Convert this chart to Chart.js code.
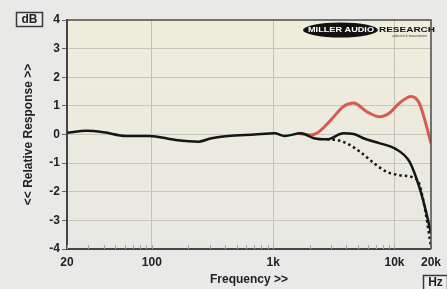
<!DOCTYPE html>
<html>
<head>
<meta charset="utf-8">
<script src="https://cdn.jsdelivr.net/npm/chart.js@4.4.1/dist/chart.umd.min.js"></script>
<style>
  body { margin: 0; background: #e9e9e8; }
  #wrap { width: 447px; height: 289px; }
</style>
</head>
<body>
<div id="wrap"><canvas id="freqChart" width="447" height="289"></canvas></div>
<script>
// Frequency response data (Hz / dB)
const solidFreq = [20, 29, 40, 61, 95, 157, 243, 311, 425, 703, 1030, 1240, 1700, 2170, 2780, 3800, 4600, 5550, 7600, 10000, 13300, 16000, 18100, 20000];
const solidDb   = [0.06, 0.13, 0.08, -0.05, -0.05, -0.19, -0.25, -0.13, -0.05, 0.0, 0.04, -0.05, 0.04, -0.13, -0.17, 0.04, 0.02, -0.13, -0.31, -0.48, -0.95, -1.83, -2.65, -3.46];

const dottedFreq = [2780, 3400, 4050, 5200, 6800, 8600, 11000, 14200, 16000, 18100, 20000];
const dottedDb   = [-0.17, -0.2, -0.31, -0.6, -1.01, -1.3, -1.42, -1.5, -1.72, -2.76, -3.93];

const redFreq = [1600, 2020, 2300, 3000, 3800, 4600, 5900, 7600, 9100, 11000, 13700, 16000, 18100, 20000];
const redDb   = [0.04, -0.02, 0.05, 0.51, 0.98, 1.1, 0.8, 0.62, 0.75, 1.1, 1.33, 1.1, 0.39, -0.31];

// Axis ticks
const xTickValues = [20, 30, 40, 50, 60, 70, 80, 90, 100, 200, 300, 400, 500, 600, 700, 800, 900,
                     1000, 2000, 3000, 4000, 5000, 6000, 7000, 8000, 9000, 10000, 20000];
const xTickLabels = { 20: '20', 100: '100', 1000: '1k', 10000: '10k', 20000: '20k' };
const xGridValues = [100, 1000, 10000];

const toPoints = (xs, ys) => xs.map((x, i) => ({ x: x, y: ys[i] }));

const tickFont = { family: "'Liberation Sans', Arial, sans-serif", size: 12, weight: 'bold' };

// Plot background, frame, minor ticks and boxes
const decorPlugin = {
    id: 'decor',
    beforeDraw(chart) {
        const { ctx, chartArea: a } = chart;
        const g = ctx.createLinearGradient(0, a.top, 0, a.bottom);
        g.addColorStop(0, '#efeddb');
        g.addColorStop(1, '#e8e8e3');
        ctx.save();
        ctx.fillStyle = g;
        ctx.fillRect(a.left, a.top, a.right - a.left, a.bottom - a.top);
        ctx.restore();
    },
    beforeDatasetsDraw(chart) {
        const { ctx, chartArea: a } = chart;
        const xs = chart.scales.x;
        ctx.save();
        ctx.strokeStyle = '#a8a8a0';
        ctx.lineWidth = 1;
        xs.ticks.forEach(t => {
            const px = Math.round(xs.getPixelForValue(t.value)) + 0.5;
            ctx.beginPath();
            ctx.moveTo(px, a.bottom - 4);
            ctx.lineTo(px, a.bottom);
            ctx.stroke();
        });
        // logo
        ctx.fillStyle = '#111';
        ctx.beginPath();
        ctx.ellipse(340.5, 30, 37.5, 7.5, 0, 0, Math.PI * 2);
        ctx.fill();
        ctx.textBaseline = 'middle';
        ctx.textAlign = 'left';
        ctx.font = "bold 8px 'Liberation Sans', Arial, sans-serif";
        let w = ctx.measureText('MILLER AUDIO').width;
        ctx.save();
        ctx.translate(308, 30);
        ctx.scale(66 / w, 1);
        ctx.fillStyle = '#fff';
        ctx.fillText('MILLER AUDIO', 0, 0);
        ctx.restore();
        w = ctx.measureText('RESEARCH').width;
        ctx.save();
        ctx.translate(379, 30);
        ctx.scale(56 / w, 1);
        ctx.fillStyle = '#111';
        ctx.fillText('RESEARCH', 0, 0);
        ctx.restore();
        ctx.font = "3px 'Liberation Sans', Arial, sans-serif";
        ctx.fillStyle = '#444';
        ctx.fillText('audio test & measurement', 392, 36);
        ctx.restore();
    },
    afterDraw(chart) {
        const { ctx, chartArea: a } = chart;
        ctx.save();
        ctx.strokeStyle = '#4a4a4a';
        ctx.lineWidth = 1.5;
        ctx.beginPath();
        ctx.moveTo(a.left, a.top);
        ctx.lineTo(a.right, a.top);
        ctx.lineTo(a.right, a.bottom);
        ctx.stroke();

        ctx.lineWidth = 1.5;
        ctx.strokeStyle = '#3a3a3a';
        ctx.fillStyle = '#ececeb';
        ctx.fillRect(16.5, 12.5, 26, 14);
        ctx.strokeRect(16.5, 12.5, 26, 14);
        ctx.fillRect(423.5, 275.5, 24, 16);
        ctx.strokeRect(423.5, 275.5, 24, 16);
        ctx.fillStyle = '#222';
        ctx.font = "bold 12px 'Liberation Sans', Arial, sans-serif";
        ctx.textAlign = 'center';
        ctx.textBaseline = 'middle';
        ctx.fillText('dB', 29.5, 20);
        ctx.fillText('Hz', 435.5, 283);
        ctx.restore();
    }
};

const ctx = document.getElementById('freqChart').getContext('2d');
new Chart(ctx, {
    type: 'line',
    data: {
        datasets: [
            {
                label: 'Response',
                data: toPoints(solidFreq, solidDb),
                borderColor: '#151515',
                borderWidth: 2.5
            },
            {
                label: 'Response (alt)',
                data: toPoints(dottedFreq, dottedDb),
                borderColor: '#151515',
                borderWidth: 2.5,
                borderDash: [2.5, 3]
            },
            {
                label: 'Response (boosted)',
                data: toPoints(redFreq, redDb),
                borderColor: 'rgba(214, 78, 68, 0.92)',
                borderWidth: 3
            }
        ]
    },
    options: {
        responsive: false,
        animation: false,
        layout: { padding: { left: 0, top: 20, right: 11, bottom: 0 } },
        elements: {
            point: { radius: 0 },
            line: { cubicInterpolationMode: 'monotone', fill: false }
        },
        plugins: {
            legend: { display: false },
            tooltip: { enabled: false }
        },
        scales: {
            x: {
                type: 'logarithmic',
                min: 20,
                max: 20000,
                afterBuildTicks: (scale) => {
                    scale.ticks = xTickValues.map(v => ({ value: v }));
                },
                afterFit: (scale) => { scale.height = 40; },
                ticks: {
                    autoSkip: false,
                    maxRotation: 0,
                    padding: 6,
                    color: '#222',
                    font: tickFont,
                    callback: (value) => xTickLabels[value] || ''
                },
                grid: {
                    drawTicks: false,
                    color: (c) => xGridValues.includes(c.tick && c.tick.value) ? '#c2c2ba' : 'rgba(0,0,0,0)'
                },
                border: { color: '#454545', width: 2 },
                title: {
                    display: true,
                    text: 'Frequency >>',
                    color: '#222',
                    font: tickFont,
                    padding: { top: 0, bottom: 2 }
                }
            },
            y: {
                min: -4,
                max: 4,
                afterFit: (scale) => { scale.width = 67; },
                ticks: {
                    stepSize: 1,
                    padding: 2,
                    color: '#222',
                    font: tickFont
                },
                grid: {
                    tickLength: 5,
                    tickColor: '#666',
                    color: (c) => (c.tick && (c.tick.value === 4 || c.tick.value === -4)) ? 'rgba(0,0,0,0)' : '#c6c6be'
                },
                border: { color: '#454545', width: 2 },
                title: {
                    display: true,
                    text: '<< Relative Response >>',
                    color: '#222',
                    font: tickFont,
                    padding: { top: 21, bottom: 0 }
                }
            }
        }
    },
    plugins: [decorPlugin]
});
</script>
</body>
</html>
